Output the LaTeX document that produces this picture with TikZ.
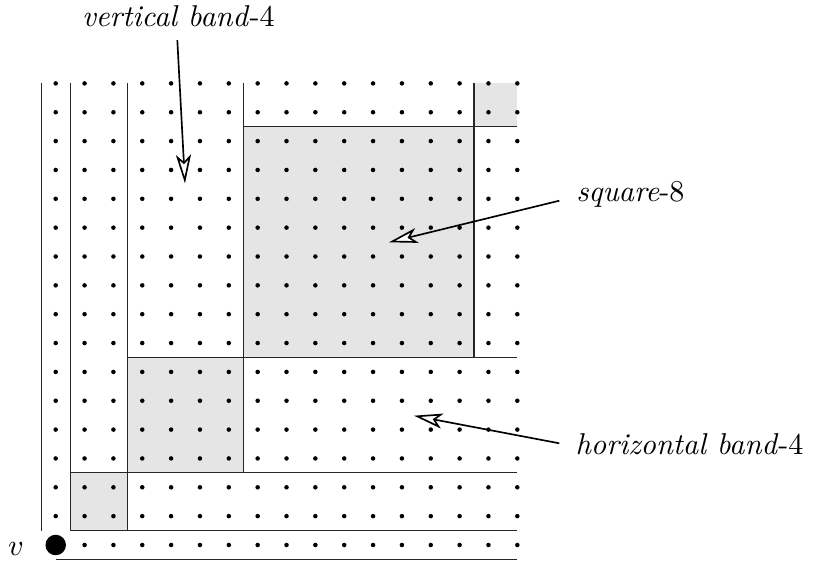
\documentclass[tikz,border=0pt]{standalone}
\usetikzlibrary{arrows.meta}
\tikzset{
  gridline/.style={line width=0.4pt, black!85},
  sqfill/.style={fill=black!10},
  smalldot/.style={fill=black},
  pointer/.style={line width=0.55pt, -{Stealth[length=9.5pt, width=5pt, inset=2.4pt, fill=white]}},
  lbl/.style={inner sep=0pt, anchor=base}
}
\begin{document}
\begin{tikzpicture}[x=9.57pt, y=9.57pt]
\useasboundingbox (-1.931,-0.624) rectangle (26.249,18.891);
% shaded squares
\fill[sqfill] (0.5,0.5) rectangle (2.5,2.5);
\fill[sqfill] (2.5,2.5) rectangle (6.5,6.5);
\fill[sqfill] (6.5,6.5) rectangle (14.5,14.5);
\fill[sqfill] (14.5,14.5) rectangle (16,16);
% vertical lines
\draw[gridline] (-0.5,0.5) -- (-0.5,16);
\draw[gridline] (0.5,0.5) -- (0.5,16);
\draw[gridline] (2.5,0.5) -- (2.5,16);
\draw[gridline] (6.5,2.5) -- (6.5,16);
\draw[gridline] (14.5,6.5) -- (14.5,16);
% horizontal lines
\draw[gridline] (0,-0.5) -- (16,-0.5);
\draw[gridline] (0.5,0.5) -- (16,0.5);
\draw[gridline] (0.5,2.5) -- (16,2.5);
\draw[gridline] (2.5,6.5) -- (16,6.5);
\draw[gridline] (6.5,14.5) -- (16,14.5);
% dots
\foreach \i in {0,...,16}{
  \foreach \j in {0,...,16}{
    \ifnum\i=0 \ifnum\j=0 \else \fill[smalldot] (\i,\j) circle (0.75pt);\fi
    \else \fill[smalldot] (\i,\j) circle (0.75pt);\fi
  }
}
\node[circle, fill=black, inner sep=0pt, minimum size=6.8pt] (v) at (0,0) {};
\node[lbl] (vl) at (-1.376,-0.347) {$v$};
% labels
\node[lbl] (vb) at (4.25,17.965) {\emph{vertical band}-4};
\node[lbl] (sq) at (19.92,11.89) {\emph{square}-8};
\node[lbl] (hb) at (21.97,3.144) {\emph{horizontal band}-4};
% arrow ends
\coordinate (vbs) at (4.215,17.50);
\coordinate (vbt) at (4.481,12.537);
\coordinate (sqs) at (17.456,11.934);
\coordinate (sqt) at (11.553,10.492);
\coordinate (hbs) at (17.456,3.525);
\coordinate (hbt) at (12.419,4.482);
\draw[pointer] (vbs) -- (vbt);
\draw[pointer] (sqs) -- (sqt);
\draw[pointer] (hbs) -- (hbt);
\end{tikzpicture}
\end{document}
